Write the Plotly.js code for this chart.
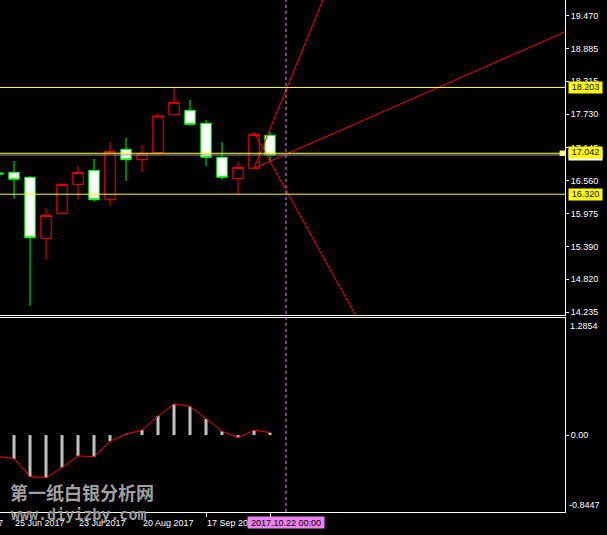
<!DOCTYPE html>
<html><head><meta charset="utf-8">
<script src="https://cdn.plot.ly/plotly-3.0.1.min.js"></script>
<style>html,body{margin:0;padding:0;background:#000;}#chart{width:607px;height:535px;}</style>
</head><body><div id="chart"></div>
<script>
// ---- data (weekly bars, index 0 = 18 Jun 2017) ----
const barIdx   = [0,1,2,3,4,5,6,7,8,9,10,11,12,13,14,15,16,17];
const barDates = ['2017-06-18','2017-06-25','2017-07-02','2017-07-09','2017-07-16','2017-07-23','2017-07-30','2017-08-06','2017-08-13','2017-08-20','2017-08-27','2017-09-03','2017-09-10','2017-09-17','2017-09-24','2017-10-01','2017-10-08','2017-10-15'];
const openP  = [16.695,16.706,16.618,15.541,15.983,16.494,16.741,16.223,17.112,16.929,17.052,17.723,17.800,17.571,16.971,16.600,16.777,17.359];
const highP  = [16.800,16.906,16.641,16.071,16.512,16.817,16.941,17.241,17.312,17.188,17.747,18.203,17.982,17.629,17.241,16.888,17.417,17.423];
const lowP   = [16.550,16.240,14.352,15.158,15.958,16.223,16.187,16.117,16.553,16.711,17.012,17.723,17.529,16.817,16.576,16.320,16.777,16.893];
const closeP = [16.675,16.583,15.552,15.947,16.494,16.706,16.223,17.077,16.929,17.029,17.700,17.942,17.553,16.971,16.618,16.794,17.377,17.012];

const macdHist   = [-0.236,-0.264,-0.459,-0.470,-0.357,-0.231,-0.239,-0.068,0.008,0.057,0.211,0.343,0.316,0.178,0.042,-0.027,0.053,0.027];
const macdSignal = [-0.236,-0.258,-0.457,-0.470,-0.355,-0.229,-0.239,-0.068,0.012,0.055,0.209,0.341,0.316,0.178,0.042,-0.027,0.053,0.027];

// trend rays (bar index, price)
const rayA_x = [16, 21],  rayA_y = [16.777, 20.227];
const rayB_x = [16, 36],  rayB_y = [16.777, 19.257];
const rayC_x = [16, 24],  rayC_y = [17.405, 13.341];

const levelLines = [18.203, 17.042, 16.320];
const levelText  = ['18.203','17.042','16.320'];

const priceTicks = [19.470,18.885,18.315,17.730,17.145,16.560,15.975,15.390,14.820,14.235];
const priceTickText = ['19.470','18.885','18.315','17.730','17.145','16.560','15.975','15.390','14.820','14.235'];

const macdMax = 1.2854, macdMin = -0.8447;
const macdTickText = ['1.2854','0.00','-0.8447'];

const dateTickIdx  = [-3,1,5,9,13,17];
const dateTickText = ['28 May 2017','25 Jun 2017','23 Jul 2017','20 Aug 2017','17 Sep 2017','15 Oct 2017'];
const futureIdx = 18;
const futureText = '2017.10.22 00:00';

const watermark1 = '第一纸白银分析网';
const watermark2 = 'www.diyizby.com';

// ---- layout constants ----
const xRange = [0.125, 35.4375];
const priceRange = [14.188, 19.747];
const FONT = 'Liberation Sans, Arial, sans-serif';
const kToPaper = k => (k - xRange[0]) / (xRange[1] - xRange[0]);
const lastClose = closeP[closeP.length - 1];

const traces = [
  {type:'candlestick', x:barIdx, open:openP, high:highP, low:lowP, close:closeP,
   xaxis:'x', yaxis:'y', text:barDates, hoverinfo:'skip',
   increasing:{line:{color:'#ff0000',width:1}, fillcolor:'#000000'},
   decreasing:{line:{color:'#00ff00',width:1}, fillcolor:'#ffffff'}},
  {type:'scatter', mode:'lines', x:rayA_x, y:rayA_y, xaxis:'x', yaxis:'y', line:{color:'#ff0000',width:1}, hoverinfo:'skip'},
  {type:'scatter', mode:'lines', x:rayB_x, y:rayB_y, xaxis:'x', yaxis:'y', line:{color:'#ff0000',width:1}, hoverinfo:'skip'},
  {type:'scatter', mode:'lines', x:rayC_x, y:rayC_y, xaxis:'x', yaxis:'y', line:{color:'#ff0000',width:1}, hoverinfo:'skip'},
  {type:'bar', x:barIdx, y:macdHist, xaxis:'x2', yaxis:'y2', width:0.19,
   marker:{color:'#c0c0c0', line:{width:0}}, hoverinfo:'skip'},
  {type:'scatter', mode:'lines', x:barIdx, y:macdSignal, xaxis:'x2', yaxis:'y2',
   line:{color:'#ff0000',width:1}, hoverinfo:'skip'}
];

const shapes = [];
levelLines.forEach(v => shapes.push({type:'line', xref:'paper', x0:0, x1:1, yref:'y', y0:v, y1:v, line:{color:'#ffff00', width:1}}));
shapes.push({type:'line', xref:'paper', x0:0, x1:1, yref:'y', y0:lastClose, y1:lastClose, line:{color:'#9a9a9a', width:1}});
shapes.push({type:'line', xref:'x', x0:futureIdx, x1:futureIdx, yref:'paper', y0:0, y1:1, line:{color:'#ee82ee', width:1, dash:'3px,3px'}});
shapes.push({type:'rect', xref:'paper', x0:0.9912, x1:1, yref:'y', y0:levelLines[1]-0.04, y1:levelLines[1]+0.04, fillcolor:'#ffffff', line:{color:'#ffff00', width:1}});

const annotations = [];
annotations.push({xref:'paper', yref:'paper', x:8/565, y:20/512, xanchor:'left', yanchor:'middle', showarrow:false,
  text:'<b>'+watermark1+'</b>', font:{family:'Noto Sans CJK SC', size:18, color:'#a0a0a0'}});
annotations.push({xref:'paper', yref:'paper', x:9/565, y:0, xanchor:'left', yanchor:'middle', yshift:-3, showarrow:false,
  text:'<b>'+watermark2+'</b>', font:{family:'DejaVu Sans Mono', size:15, color:'#9a9a9a'}});
dateTickIdx.forEach((k,i) => annotations.push({xref:'paper', yref:'paper', x:kToPaper(k), y:0, xanchor:'left', yanchor:'top',
  xshift:-1, yshift:-4, showarrow:false, text:dateTickText[i], font:{family:FONT, size:9, color:'#ffffff'}}));
annotations.push({xref:'x2', yref:'paper', x:futureIdx, y:0, xanchor:'center', yanchor:'top', yshift:-4, showarrow:false,
  text:futureText, bgcolor:'#ee82ee', width:76, height:11, borderpad:0, font:{family:FONT, size:9, color:'#000000'}});
// bid label (white) under level label
annotations.push({xref:'paper', yref:'y', x:1, y:lastClose, xanchor:'left', yanchor:'middle', xshift:3, showarrow:false,
  text:lastClose.toFixed(3), bgcolor:'#ffffff', width:33, height:10, borderpad:0, font:{family:FONT, size:9, color:'#000000'}});
levelLines.forEach((v,i) => annotations.push({xref:'paper', yref:'y', x:1, y:v, xanchor:'left', yanchor:'middle', xshift:3,
  yshift: i===1 ? 1 : 0, showarrow:false, text:levelText[i], bgcolor:'#ffff00', width:33, height:10.5, borderpad:0,
  font:{family:FONT, size:9, color:'#000000'}}));
annotations.push({xref:'paper', yref:'y2', x:1, y:macdMax, xanchor:'left', yanchor:'top', xshift:3, yshift:-1, showarrow:false,
  text:macdTickText[0], font:{family:FONT, size:9, color:'#ffffff'}});
annotations.push({xref:'paper', yref:'y2', x:1, y:macdMin, xanchor:'left', yanchor:'bottom', xshift:2, yshift:0, showarrow:false,
  text:macdTickText[2], font:{family:FONT, size:9, color:'#ffffff'}});

const layout = {
  width:607, height:535, paper_bgcolor:'#000000', plot_bgcolor:'#000000',
  margin:{l:0, r:42, t:0, b:23}, showlegend:false, hovermode:false,
  font:{family:FONT, size:9, color:'#ffffff'},
  boxgap:0.35, boxgroupgap:0,
  xaxis:{domain:[0,1], range:xRange, anchor:'y', showticklabels:false, ticks:'', showgrid:false, zeroline:false,
         showline:true, linecolor:'#ffffff', linewidth:1, rangeslider:{visible:false}, fixedrange:true},
  yaxis:{domain:[1-315/512, 1], range:priceRange, anchor:'x', side:'right', showline:true, linecolor:'#ffffff', linewidth:1,
         ticks:'outside', ticklen:3, tickcolor:'#ffffff', tickvals:priceTicks, ticktext:priceTickText,
         showgrid:false, zeroline:false, tickfont:{family:FONT, size:9, color:'#ffffff'}, fixedrange:true},
  xaxis2:{domain:[0,1], range:xRange, anchor:'y2', matches:'x', showticklabels:false, ticks:'outside', ticklen:4, tickcolor:'#ffffff',
          tickvals:dateTickIdx.slice(1), showgrid:false, zeroline:false, showline:true, mirror:true, linecolor:'#ffffff', linewidth:1, fixedrange:true},
  yaxis2:{domain:[0, 194/512], range:[macdMin, macdMax], anchor:'x2', side:'right', showline:true, linecolor:'#ffffff', linewidth:1,
          ticks:'outside', ticklen:3, tickcolor:'#ffffff', tickvals:[0], ticktext:[macdTickText[1]],
          showgrid:false, zeroline:false, tickfont:{family:FONT, size:9, color:'#ffffff'}, fixedrange:true},
  shapes:shapes, annotations:annotations
};

Plotly.newPlot('chart', traces, layout, {staticPlot:true, displayModeBar:false});
</script></body></html>
